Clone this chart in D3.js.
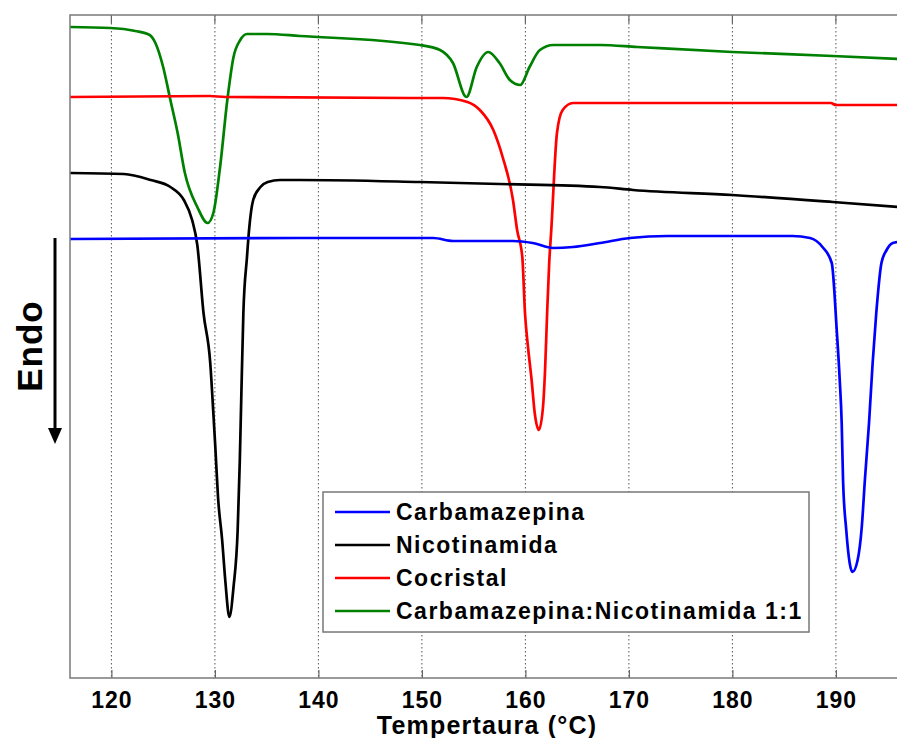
<!DOCTYPE html>
<html><head><meta charset="utf-8">
<script src="https://cdn.jsdelivr.net/npm/d3@7"></script>
<style>
html,body{margin:0;padding:0;background:#fff;}
svg{display:block;}
text{font-family:"Liberation Sans",Arial,sans-serif;font-weight:bold;fill:#000;}
</style></head>
<body>
<svg id="chart" width="897" height="738"></svg>
<script>
// ---- DATA (temperature in °C, heat flow in arbitrary offset units) ----
const seriesNames = ["Carbamazepina", "Nicotinamida", "Cocristal", "Carbamazepina:Nicotinamida 1:1"];
const seriesColors = ["#0000ff", "#000000", "#ff0000", "#008000"];

const carbT = [116, 138.2, 151.1, 153.0, 158.8, 160.7, 162.7, 164.6, 167.2, 170.1, 173.7, 185.8, 187.5, 188.7, 189.6, 190.08, 190.37, 190.56, 190.69, 191.0, 191.33, 191.6, 192.1, 192.5, 192.8, 193.2, 193.55, 193.9, 194.4, 194.9, 195.5, 196];
const carbV = [43.9, 44.0, 44.0, 43.7, 43.7, 43.5, 43.0, 43.1, 43.5, 44.0, 44.2, 44.2, 44.0, 43.1, 41.5, 34.8, 29.8, 25.5, 19.8, 14.8, 11.5, 10.6, 11.8, 15.1, 19.8, 25.5, 31.5, 36.5, 41.5, 42.8, 43.5, 43.6];

const nicoT = [116, 121.2, 123.8, 125.7, 127.0, 127.8, 128.3, 128.9, 129.55, 129.85, 130.04, 130.3, 130.7, 131.0, 131.4, 131.8, 132.2, 132.4, 132.55, 132.75, 133.1, 133.3, 133.7, 134.4, 135.1, 136.3, 138.2, 149.8, 157.5, 167.2, 170.4, 180, 189.7, 196];
const nicoV = [50.5, 50.4, 49.8, 49.1, 47.8, 45.8, 43.3, 36.5, 31.5, 26.5, 23.1, 18.1, 13.8, 9.8, 6.1, 9.1, 14.8, 21.5, 28.1, 36.5, 42.1, 44.8, 47.8, 49.1, 49.6, 49.8, 49.8, 49.6, 49.4, 49.1, 48.8, 48.3, 47.6, 47.1];

const cocrT = [116, 129.5, 131, 148.9, 152.0, 154.4, 155.6, 156.9, 157.8, 158.8, 159.2, 159.7, 159.96, 160.25, 160.6, 160.9, 161.3, 161.7, 161.9, 162.1, 162.3, 162.5, 163.05, 163.6, 164.6, 167.2, 189.5, 190, 196];
const cocrV = [58.1, 58.2, 58.1, 58.0, 58.0, 57.6, 56.8, 54.8, 52.1, 47.8, 44.8, 42.1, 36.5, 33.1, 29.8, 26.5, 24.8, 27.1, 30.8, 36.5, 41.5, 44.8, 54.5, 56.8, 57.5, 57.5, 57.5, 57.3, 57.3];

const mixT = [116, 119.9, 122.3, 123.7, 124.25, 125.0, 125.7, 126.4, 127.1, 128.3, 129.3, 129.85, 130.5, 131.2, 131.8, 132.45, 133.1, 135.0, 138.2, 149.8, 151.75, 153.0, 154.3, 155.3, 156.4, 157.5, 158.5, 159.5, 160.4, 161.4, 162.7, 167.2, 170.8, 180, 189.7, 196];
const mixV = [65.1, 65.0, 64.7, 64.3, 63.5, 61.1, 57.8, 54.5, 50.5, 47.1, 45.5, 46.5, 51.1, 57.8, 62.1, 63.8, 64.4, 64.4, 64.2, 63.3, 62.8, 61.5, 58.1, 61.1, 62.6, 61.5, 59.8, 59.3, 61.1, 62.8, 63.3, 63.3, 63.1, 62.6, 62.2, 61.9];

const xTicks = [120, 130, 140, 150, 160, 170, 180, 190];
const xDomain = [116, 196];
const yDomain = [0, 66.3];
const xTitle = "Tempertaura (°C)";
const yLabel = "Endo";

// ---- DRAW ----
const svg = d3.select("#chart");
const L = 70, T = 15, R = 898, B = 678;
const x = d3.scaleLinear().domain(xDomain).range([L, R]);
const y = d3.scaleLinear().domain(yDomain).range([B, T]);

// grid
svg.append("g").selectAll("line").data(xTicks).join("line")
  .attr("x1", d => x(d)).attr("x2", d => x(d)).attr("y1", T).attr("y2", B)
  .attr("stroke", "#555").attr("stroke-width", 1).attr("stroke-dasharray", "1.5,2.5");

// series
const data = [
  {t: carbT, v: carbV}, {t: nicoT, v: nicoV}, {t: cocrT, v: cocrV}, {t: mixT, v: mixV}
];
const line = d3.line().x(d => x(d[0])).y(d => y(d[1])).curve(d3.curveMonotoneX);
svg.append("clipPath").attr("id", "clip").append("rect")
  .attr("x", L).attr("y", T).attr("width", R - L).attr("height", B - T);
const gLines = svg.append("g").attr("clip-path", "url(#clip)");
[3, 2, 1, 0].forEach(i => {
  const pts = data[i].t.map((t, k) => [t, data[i].v[k]]);
  gLines.append("path").datum(pts).attr("d", line)
    .attr("fill", "none").attr("stroke", seriesColors[i]).attr("stroke-width", 2.7)
    .attr("stroke-linejoin", "round");
});

// axes frame
const ax = d3.axisBottom(x).tickValues(xTicks).tickSize(-8).tickPadding(14).tickFormat(d3.format("d"));
const gAx = svg.append("g").attr("transform", `translate(0,${B})`).call(ax);
gAx.select(".domain").remove();
gAx.selectAll(".tick line").attr("stroke", "#666").attr("stroke-width", 1.2);
gAx.selectAll(".tick text").attr("font-size", 23).attr("letter-spacing", 1)
  .attr("font-family", "Liberation Sans, Arial, sans-serif").attr("font-weight", "bold").attr("fill", "#000");
svg.append("g").selectAll("line").data(xTicks).join("line")
  .attr("x1", d => x(d)).attr("x2", d => x(d)).attr("y1", T).attr("y2", T + 8)
  .attr("stroke", "#666").attr("stroke-width", 1.2);
svg.append("path").attr("d", `M${R},${T}H${L}V${B}H${R}`)
  .attr("fill", "none").attr("stroke", "#7a7a7a").attr("stroke-width", 1.5);

// x title
svg.append("text").attr("x", (L + R) / 2 + 3).attr("y", 734).attr("text-anchor", "middle")
  .attr("font-size", 25).attr("letter-spacing", 1.2).text(xTitle);

// Endo label + arrow
svg.append("text").attr("transform", "translate(42,346) rotate(-90)").attr("text-anchor", "middle")
  .attr("font-size", 35).attr("letter-spacing", 1).text(yLabel);
svg.append("line").attr("x1", 55).attr("x2", 55).attr("y1", 238).attr("y2", 430)
  .attr("stroke", "#000").attr("stroke-width", 3);
svg.append("path").attr("d", "M48,428 L62,428 L55,444 Z").attr("fill", "#000");

// legend
const lg = svg.append("g");
lg.append("rect").attr("x", 323).attr("y", 492).attr("width", 486).attr("height", 140)
  .attr("fill", "#fff").attr("stroke", "#777").attr("stroke-width", 1.5);
const rowY = d3.scalePoint().domain(d3.range(4)).range([512, 611]);
seriesNames.forEach((n, i) => {
  lg.append("line").attr("x1", 335).attr("x2", 390).attr("y1", rowY(i)).attr("y2", rowY(i))
    .attr("stroke", seriesColors[i]).attr("stroke-width", 2.6);
  lg.append("text").attr("x", 396).attr("y", rowY(i) + 8).attr("font-size", 23)
    .attr("letter-spacing", 1.5).text(n);
});
</script>
</body></html>
